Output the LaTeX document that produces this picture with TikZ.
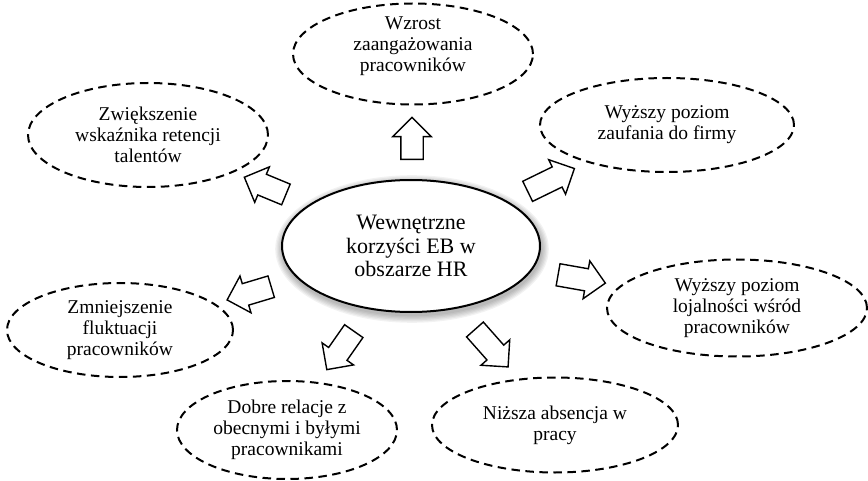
\documentclass[tikz,border=0pt]{standalone}
\usepackage{fontspec}
\setmainfont{Liberation Serif}
\usetikzlibrary{shapes.geometric,shapes.arrows}
\begin{document}
\begin{tikzpicture}[x=1pt,y=-1pt,
  sat/.style={ellipse,draw,dash pattern=on 8.5pt off 5.5pt,line width=2pt,inner sep=0pt,align=center,
              font=\fontsize{19.5}{21}\selectfont},
  sattext/.style={inner sep=0pt,align=center,font=\fontsize{19.5}{21}\selectfont},
  hub/.style={ellipse,draw,line width=2pt,fill=white,inner sep=0pt,align=center,
              font=\fontsize{22}{23.5}\selectfont,minimum width=258pt,minimum height=132pt},
  blk/.style={single arrow,draw,line width=1.4pt,fill=white,inner xsep=0pt,inner ysep=10.5pt,
              single arrow head extend=8pt,single arrow tip angle=90},
  glow/.style={fill=black,opacity=0.05}
]
\useasboundingbox (0,0) rectangle (868,481);

% glow / shadow of the central ellipse
\foreach \i in {1,...,6}
  \fill[glow] (412,249) ellipse [x radius={129pt+\i*1.3pt}, y radius={66pt+\i*1.3pt}];

\node[hub] (hub) at (411,246) {Wewnętrzne\\korzyści EB w\\obszarze HR};

\node[sat,minimum width=240pt,minimum height=101pt] (top)  at (413,54)  {};
\node[sattext] (toptxt) at (413,46) {Wzrost\\zaangażowania\\pracowników};
\node[sat,minimum width=240pt,minimum height=104pt] (ret)  at (148,135) {Zwiększenie\\wskaźnika retencji\\talentów};
\node[sat,minimum width=254pt,minimum height=94pt]  (zauf) at (667,125) {Wyższy poziom\\zaufania do firmy};
\node[sat,minimum width=260pt,minimum height=97pt]  (loj)  at (737,308) {Wyższy poziom\\lojalności wśród\\pracowników};
\node[sat,minimum width=246pt,minimum height=95pt]  (abs)  at (555,425) {Niższa absencja w\\pracy};
\node[sat,minimum width=220pt,minimum height=98pt]  (rel)  at (287,430) {Dobre relacje z\\obecnymi i byłymi\\pracownikami};
\node[sat,minimum width=226pt,minimum height=94pt]  (flu)  at (120,330) {Zmniejszenie\\fluktuacji\\pracowników};

% block arrows
\node[blk,minimum height=42pt,rotate=90]     (a1) at (412,144)   {};
\node[blk,minimum height=45pt,rotate=157.5]  (a2) at (270.3,188) {};
\node[blk,minimum height=52pt,rotate=26]     (a3) at (546,182.4) {};
\node[blk,minimum height=48pt,rotate=-10]    (a4) at (576.2,278) {};
\node[blk,minimum height=50pt,rotate=-48.5]  (a5) at (487.8,344) {};
\node[blk,minimum height=47pt,rotate=-125]   (a6) at (343.5,345.8) {};
\node[blk,minimum height=46pt,rotate=196.7]  (a7) at (254.5,291.7) {};
\end{tikzpicture}
\end{document}
